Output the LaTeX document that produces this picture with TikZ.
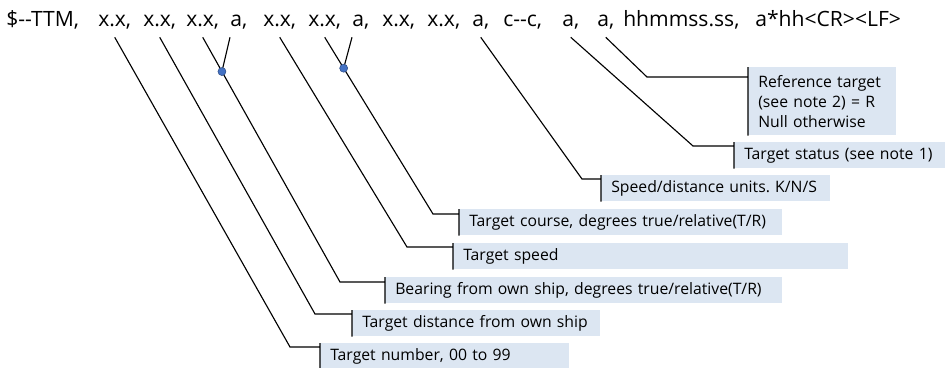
\documentclass[tikz,border=0pt]{standalone}
\usepackage{fontspec}
\setmainfont{Open Sans}
\usetikzlibrary{positioning, calc}

\definecolor{notefill}{RGB}{220,230,242}
\definecolor{jointblue}{RGB}{68,114,196}

\begin{document}
\frenchspacing
\begin{tikzpicture}[
    x=0.025cm, y=-0.025cm,
    field/.style={anchor=base west, inner sep=0pt, text depth=0.25cm, font=\fontsize{15}{18}\selectfont},
    note/.style={anchor=north west, fill=notefill, inner xsep=0.25cm, inner ysep=0pt, minimum height=0.65cm, align=left, font=\fontsize{11.2}{14.2}\selectfont},
    leader/.style={line width=0.8pt},
    joint/.style={circle, fill=jointblue, draw=jointblue!70!black, line width=0.4pt, inner sep=0pt, minimum size=0.2cm}
]
\useasboundingbox (0,0) rectangle (950,368);

% Sentence fields
\node[field] (head) at (6,27) {\$-{}-TTM,};
\node[field] (num) at (98,27) {x.x,};
\node[field] (dist) at (143,27) {x.x,};
\node[field] (brg) at (186,27) {x.x,};
\node[field] (brgunit) at (230,27) {a,};
\node[field] (spd) at (263,27) {x.x,};
\node[field] (crs) at (308,27) {x.x,};
\node[field] (crsunit) at (352,27) {a,};
\node[field] (cpa) at (382,27) {x.x,};
\node[field] (tcpa) at (427,27) {x.x,};
\node[field] (units) at (472,27) {a,};
\node[field] (name) at (503,27) {c-{}-c,};
\node[field] (status) at (562,27) {a,};
\node[field] (ref) at (597,27) {a,};
\node[field] (utc) at (623,27) {hhmmss.ss,};
\node[field] (tail) at (755,27) {a*hh<CR><LF>};

% Notes
\node[note, text width=3.2cm, minimum height=1.7cm] (refN) at (748,67) {Reference target\\(see note 2) = R\\Null otherwise};
\node[note, text width=4.775cm] (statusN) at (734,142) {Target status (see note 1)};
\node[note, text width=5.225cm] (unitsN) at (601,175) {Speed/distance units. K/N/S};
\node[note, text width=7.575cm] (crsN) at (459,209) {Target course, degrees true/relative(T/R)};
\node[note, text width=9.375cm] (spdN) at (453,243) {Target speed};
\node[note, text width=9.425cm] (brgN) at (385,277) {Bearing from own ship, degrees true/relative(T/R)};
\node[note, text width=5.7cm] (distN) at (352,310) {Target distance from own ship};
\node[note, text width=5.725cm] (numN) at (320,343) {Target number, 00 to 99};

% Leaders
\draw[leader] (num.south) -- (290,347) -| (numN.north west) -- (numN.south west);
\draw[leader] (dist.south) -- (315,314) -| (distN.north west) -- (distN.south west);
\draw[leader] (brg.south) -- (340,282) -| (brgN.north west) -- (brgN.south west);
\draw[leader] (spd.south) -- (407,247) -| (spdN.north west) -- (spdN.south west);
\draw[leader] (crs.south) -- (433,214) -| (crsN.north west) -- (crsN.south west);
\draw[leader] (units.south) -- (582,179) -| (unitsN.north west) -- (unitsN.south west);
\draw[leader] (status.south) -- (693,146) -| (statusN.north west) -- (statusN.south west);
\draw[leader] (ref.south) -- (647,77) -| (refN.north west) -- (refN.south west);

% Unit fields joined to their values
\coordinate (brgJ) at ($(brg.south)!0.14!(340,282)$);
\coordinate (crsJ) at ($(crs.south)!0.175!(433,214)$);
\draw[leader] (brgunit.south west) -- (brgJ);
\draw[leader] (crsunit.south west) -- (crsJ);
\node[joint] at (brgJ) {};
\node[joint] at (crsJ) {};

\end{tikzpicture}
\end{document}
